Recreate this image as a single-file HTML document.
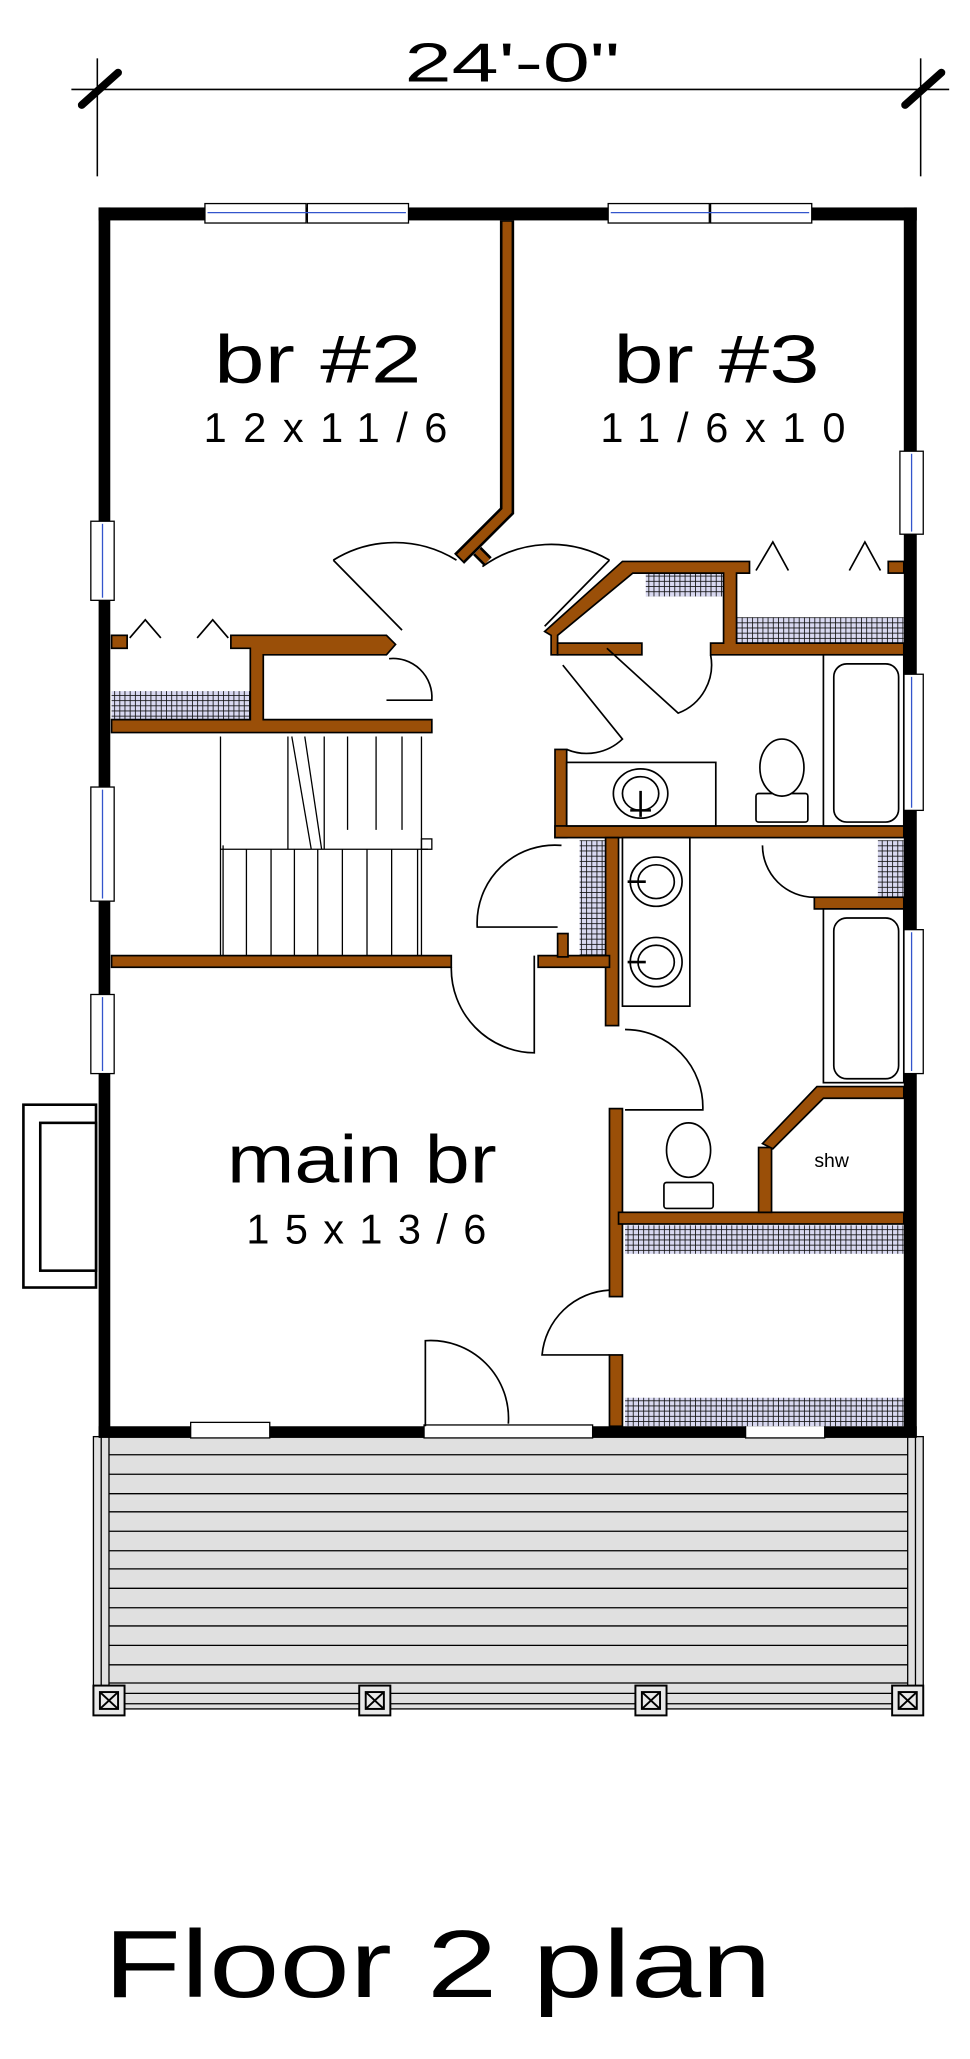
<!DOCTYPE html>
<html><head><meta charset="utf-8"><style>
html,body{margin:0;padding:0;background:#fff;}
svg{display:block;}
text{font-family:"Liberation Sans",sans-serif;fill:#000;}
</style></head><body>
<svg width="970" height="2059" viewBox="0 0 748 1588" xmlns="http://www.w3.org/2000/svg">
<defs>
<pattern id="h" width="4" height="4" patternUnits="userSpaceOnUse">
<rect width="4" height="4" fill="#d8d8f0"/><path d="M0 0H4M0 0V4" stroke="#111" stroke-width="1.3"/>
</pattern>
</defs>
<!-- dimension -->
<line x1="55" y1="69" x2="732" y2="69" stroke="#000" stroke-width="1.2"/>
<line x1="75" y1="45" x2="75" y2="136" stroke="#000" stroke-width="1.2"/>
<line x1="710" y1="45" x2="710" y2="136" stroke="#000" stroke-width="1.2"/>
<line x1="63" y1="81" x2="91" y2="56" stroke="#000" stroke-width="6" stroke-linecap="round"/>
<line x1="698" y1="81" x2="726" y2="56" stroke="#000" stroke-width="6" stroke-linecap="round"/>
<text x="312" y="63" font-size="42" textLength="166" lengthAdjust="spacingAndGlyphs">24'-0"</text>

<!-- porch -->
<rect x="72" y="1108" width="640" height="210" fill="#e0e0e0" stroke="#000" stroke-width="1"/>
<g stroke="#000" stroke-width="1">
<line x1="84" y1="1108" x2="84" y2="1310"/><line x1="700" y1="1108" x2="700" y2="1310"/>
<line x1="78" y1="1108" x2="78" y2="1310"/><line x1="706" y1="1108" x2="706" y2="1310"/>
<path d="M84 1122H700M84 1137H700M84 1152H700M84 1166H700M84 1181H700M84 1196H700M84 1210H700M84 1225H700M84 1240H700M84 1254H700M84 1269H700M84 1284H700M84 1298H700M84 1306H700M84 1314H700"/>
</g>
<g fill="#e8e8e8" stroke="#000" stroke-width="1.5">
<rect x="72" y="1300" width="24" height="23"/><rect x="277" y="1300" width="24" height="23"/><rect x="490" y="1300" width="24" height="23"/><rect x="688" y="1300" width="24" height="23"/>
</g>
<g stroke="#000" stroke-width="1.5" fill="none">
<path d="M77 1305l14 13M91 1305l-14 13M282 1305l14 13M296 1305l-14 13M495 1305l14 13M509 1305l-14 13M693 1305l14 13M707 1305l-14 13"/>
<rect x="77" y="1305" width="14" height="13"/><rect x="282" y="1305" width="14" height="13"/><rect x="495" y="1305" width="14" height="13"/><rect x="693" y="1305" width="14" height="13"/>
</g>

<!-- chimney box -->
<rect x="18" y="852" width="56" height="141" fill="#fff" stroke="#000" stroke-width="2"/>
<rect x="31" y="866" width="43" height="114" fill="#fff" stroke="#000" stroke-width="2"/>

<!-- outer walls -->
<g fill="#000">
<rect x="76" y="160" width="631" height="10"/>
<rect x="76" y="160" width="9" height="948"/>
<rect x="697" y="160" width="10" height="948"/>
<rect x="76" y="1100" width="631" height="9"/>
</g>
<!-- windows -->
<g fill="#fff" stroke="#000" stroke-width="1">
<rect x="158" y="157" width="78" height="15"/><rect x="237" y="157" width="78" height="15"/>
<rect x="469" y="157" width="78" height="15"/><rect x="548" y="157" width="78" height="15"/>
<rect x="694" y="348" width="18" height="64"/><rect x="694" y="520" width="18" height="105"/><rect x="694" y="717" width="18" height="111"/>
<rect x="70" y="402" width="18" height="61"/><rect x="70" y="607" width="18" height="88"/><rect x="70" y="767" width="18" height="61"/>
<rect x="147" y="1097" width="61" height="12"/><rect x="575" y="1097" width="61" height="12"/>
<rect x="327" y="1099" width="130" height="10"/>
</g>
<g stroke="#3355cc" stroke-width="1">
<line x1="160" y1="164" x2="313" y2="164"/><line x1="471" y1="164" x2="624" y2="164"/>
<line x1="703" y1="350" x2="703" y2="410"/><line x1="703" y1="522" x2="703" y2="623"/><line x1="703" y1="719" x2="703" y2="826"/>
<line x1="79" y1="404" x2="79" y2="461"/><line x1="79" y1="609" x2="79" y2="693"/><line x1="79" y1="769" x2="79" y2="826"/>
</g>

<!-- hatches -->
<g fill="url(#h)">
<rect x="86" y="533" width="108" height="22"/>
<rect x="498" y="440" width="60" height="20"/>
<rect x="568" y="476" width="129" height="20"/>
<rect x="447" y="648" width="20" height="90"/>
<rect x="677" y="648" width="20" height="44"/>
<rect x="482" y="945" width="215" height="22"/>
<rect x="482" y="1078" width="215" height="22"/>
</g>

<!-- br2/br3 wall -->
<polyline points="391,170 391,394 354,431" fill="none" stroke="#000" stroke-width="11"/>
<polyline points="391,171 391,394 355,430" fill="none" stroke="#9a4f08" stroke-width="7"/>
<polyline points="368,425 376,433" fill="none" stroke="#000" stroke-width="9"/>
<polyline points="368,425 376,433" fill="none" stroke="#9a4f08" stroke-width="5"/>

<!-- brown walls -->
<g fill="#9a4f08" stroke="#000" stroke-width="1.3">
<rect x="86" y="490" width="12" height="10"/>
<path d="M178 490H298L305 497L298 505H203V555H333V565H86V555H193V500H178Z"/>
<rect x="86" y="737" width="262" height="9"/>
<path d="M480 433H578V442H568V496H697V505H548V496H558V442H488L430 490V505H425V490L420 487Z"/>
<rect x="430" y="496" width="65" height="9"/>
<rect x="685" y="433" width="12" height="9"/>
<rect x="428" y="578" width="9" height="68"/>
<rect x="428" y="637" width="269" height="9"/>
<rect x="467" y="646" width="10" height="145"/>
<rect x="415" y="737" width="55" height="9"/><rect x="430" y="720" width="8" height="18"/>
<rect x="628" y="692" width="69" height="9"/>
<rect x="470" y="855" width="10" height="145"/>
<rect x="470" y="1045" width="10" height="55"/>
<rect x="477" y="935" width="220" height="9"/>
<rect x="585" y="885" width="10" height="50"/>
<path d="M630 838H697V847H635L596 886L588 882Z"/>
</g>

<!-- doors -->
<g fill="none" stroke="#000" stroke-width="1.3">
<path d="M257 432A90 90 0 0 1 352 432M257 432L310 486"/>
<path d="M372 437A90 90 0 0 1 470 432M470 432L420 483"/>
<path d="M300 508A30 30 0 0 1 333 540H298"/>
<path d="M434 513L480 570A40 40 0 0 1 437 578"/>
<path d="M468 500L523 550A40 40 0 0 0 548 505"/>
<path d="M433 652A60 60 0 0 0 368 715H430"/>
<path d="M348 746A65 65 0 0 0 412 812V737"/>
<path d="M482 794A60 60 0 0 1 542 856H482"/>
<path d="M588 652A40 40 0 0 0 628 692"/>
<path d="M470 995A55 55 0 0 0 418 1045H470"/>
<path d="M328 1100V1034A60 60 0 0 1 392 1098"/>
<path d="M100 492L112 478L124 492M152 492L164 478L176 492"/>
<path d="M583 440L596 418L608 440M655 440L667 418L679 440"/>
</g>

<!-- stairs -->
<g fill="none" stroke="#000" stroke-width="1">
<path d="M170 568V737M170 655H330M172 652V737M190 655V737M209 655V737M227 655V737M245 655V737M264 655V737M283 655V737M302 655V737M322 655V737"/>
<path d="M222 568V655M250 568V655M268 568V640M290 568V640M310 568V640M325 568V737"/>
<path d="M225 568L240 655M235 568L248 655"/>
<rect x="325" y="647" width="8" height="8"/>
</g>

<!-- fixtures -->
<g fill="#fff" stroke="#000" stroke-width="1.3">
<rect x="437" y="588" width="115" height="49"/>
<ellipse cx="494" cy="612" rx="21" ry="19"/><ellipse cx="494" cy="612" rx="14" ry="13"/>
<rect x="480" y="646" width="52" height="130"/>
<ellipse cx="506" cy="680" rx="20" ry="19"/><ellipse cx="506" cy="680" rx="14" ry="13"/>
<ellipse cx="506" cy="742" rx="20" ry="19"/><ellipse cx="506" cy="742" rx="14" ry="13"/>
<rect x="635" y="505" width="62" height="132"/>
<rect x="643" y="512" width="50" height="122" rx="10"/>
<rect x="635" y="701" width="62" height="134"/>
<rect x="643" y="708" width="50" height="124" rx="10"/>
<rect x="583" y="612" width="40" height="22" rx="2"/>
<ellipse cx="603" cy="592" rx="17" ry="22"/>
<rect x="512" y="912" width="38" height="20" rx="2"/>
<ellipse cx="531" cy="887" rx="17" ry="21"/>
</g>
<g stroke="#000" stroke-width="2"><path d="M494 610V630M486 625H502M498 680H484M498 742H484"/></g>

<!-- labels -->
<text x="165" y="295" font-size="52" textLength="160" lengthAdjust="spacingAndGlyphs">br #2</text>
<text x="157" y="341" font-size="32" textLength="188" lengthAdjust="spacing">12x11/6</text>
<text x="473" y="295" font-size="52" textLength="159" lengthAdjust="spacingAndGlyphs">br #3</text>
<text x="463" y="341" font-size="32" textLength="189" lengthAdjust="spacing">11/6x10</text>
<text x="175" y="912" font-size="52" textLength="208" lengthAdjust="spacingAndGlyphs">main br</text>
<text x="190" y="959" font-size="32" textLength="185" lengthAdjust="spacing">15x13/6</text>
<text x="628" y="900" font-size="15">shw</text>
<text x="80" y="1540" font-size="74" textLength="515" lengthAdjust="spacingAndGlyphs">Floor 2 plan</text>
</svg>
</body></html>
